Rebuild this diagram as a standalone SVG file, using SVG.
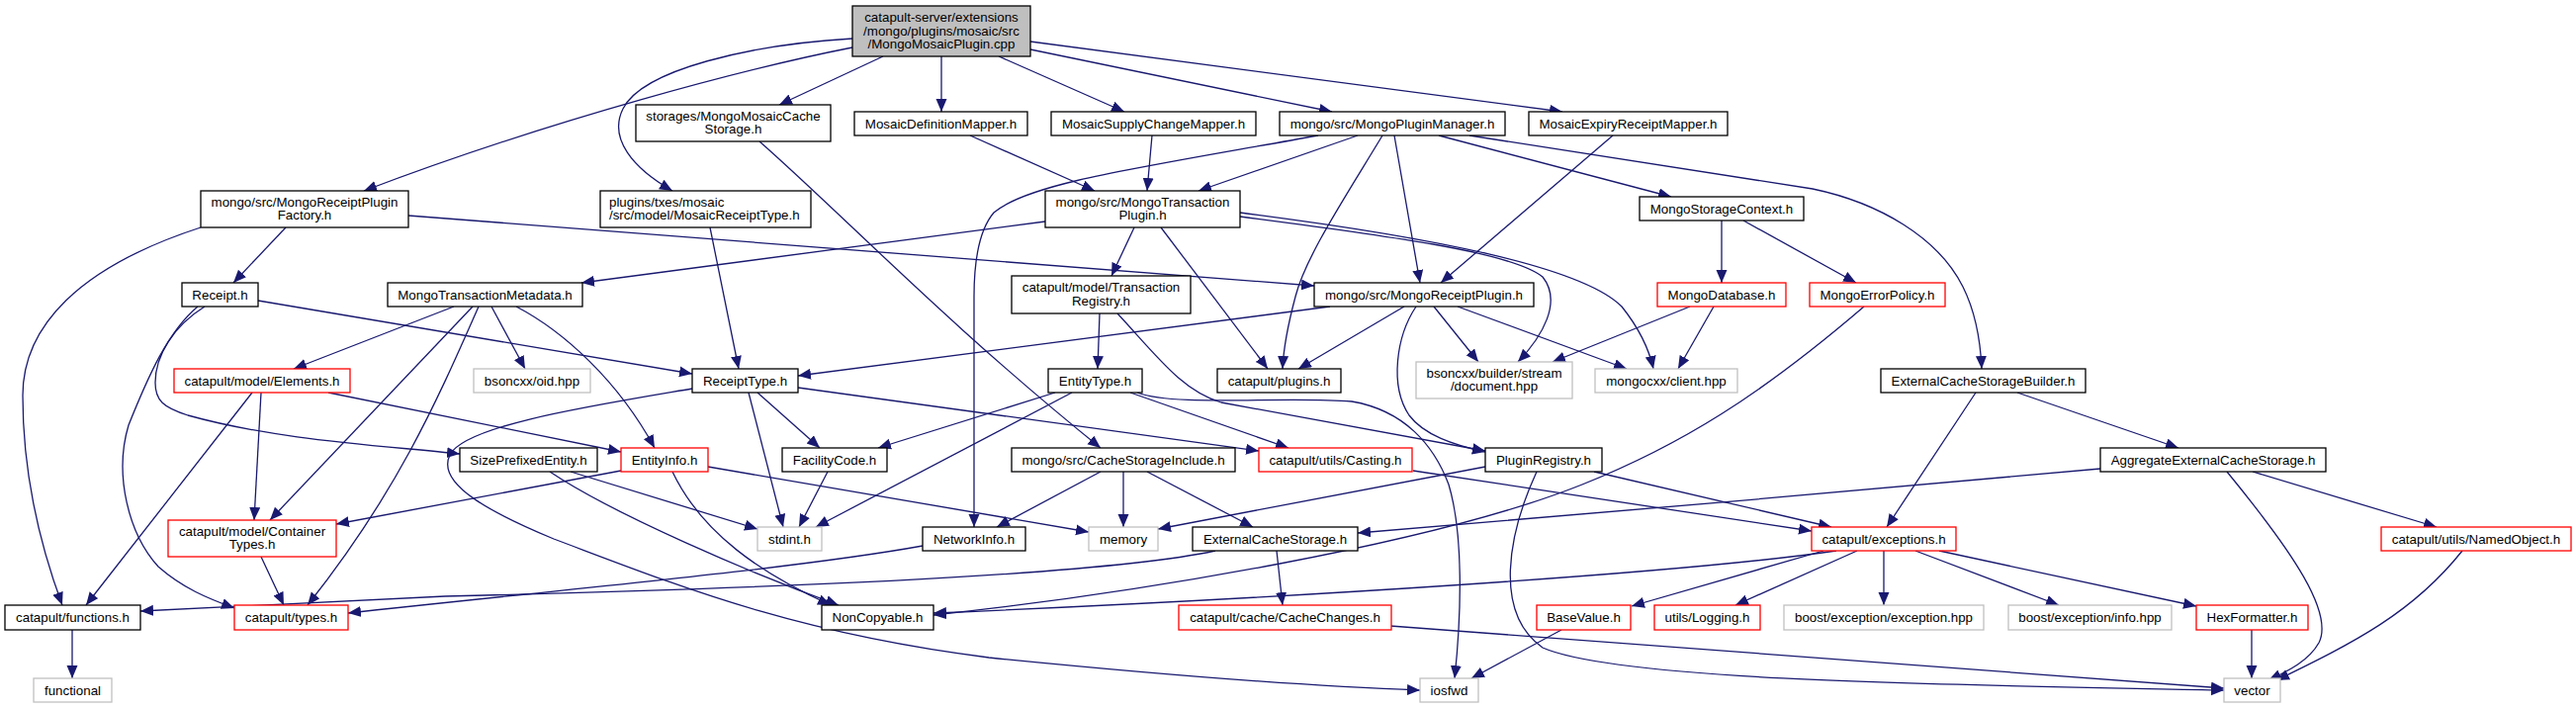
<svg xmlns="http://www.w3.org/2000/svg" width="2605" height="716" viewBox="0 0 2605 716">
<defs>
<style>
.n rect{fill:#fff;stroke:#000;stroke-width:1.3}
.r rect{stroke:#f00}
.g rect{stroke:#c0c0c0}
.root rect{fill:#bfbfbf}
text{font-family:"Liberation Sans",Arial,Helvetica,sans-serif;font-size:13.33px;fill:#000;text-anchor:middle}
text.l{text-anchor:start}
#edges path{fill:none;stroke:#191970;stroke-width:1.3;marker-end:url(#a)}
</style>
<marker id="a" markerUnits="userSpaceOnUse" markerWidth="14" markerHeight="12" refX="13" refY="5.5" orient="auto"><path d="M0,0 L13,5.5 L0,11 z" fill="#191970"/></marker>
</defs>
<rect width="2605" height="716" fill="#fff"/>
<g id="edges">
<path d="M862,48 C760,68 560,120 368,193"/>
<path d="M862,39 C760,45 650,70 630,110 C615,140 640,170 680,193"/>
<path d="M893,57 L788,106"/>
<path d="M952,57 L952,113"/>
<path d="M1010,57 L1137,113"/>
<path d="M1042,50 L1347,113"/>
<path d="M1042,42 L1580,113"/>
<path d="M768,143 C850,215 960,330 1113,453"/>
<path d="M981,137 L1107,193"/>
<path d="M1165,137 L1160,193"/>
<path d="M1373,137 L1212,193"/>
<path d="M1333,137 C1150,170 1040,185 1005,215 C988,235 985,270 985,300 L985,533"/>
<path d="M1398,137 C1360,200 1320,260 1310,300 C1302,330 1298,350 1297,373"/>
<path d="M1410,137 L1436,286"/>
<path d="M1455,137 L1690,199"/>
<path d="M1486,137 L1833,191 C1900,205 1960,240 1985,290 C2000,320 2003,350 2004,373"/>
<path d="M1631,137 L1457,286"/>
<path d="M413,218 L1329,289"/>
<path d="M289,230 L236,286"/>
<path d="M203,230 C80,270 23,330 23,400 C23,480 40,550 63,612"/>
<path d="M718,230 L747,373"/>
<path d="M1057,224 L588,286"/>
<path d="M1147,230 L1124,279"/>
<path d="M1174,230 L1282,373"/>
<path d="M1254,219 C1400,238 1530,255 1560,280 C1580,305 1560,340 1535,366"/>
<path d="M1254,215 C1450,240 1600,270 1640,310 C1660,335 1668,355 1672,373"/>
<path d="M1741,223 L1741,286"/>
<path d="M1763,223 L1877,286"/>
<path d="M261,304 L700,378"/>
<path d="M207,310 C175,330 157,360 157,387 C157,405 165,412 190,420 C280,445 380,450 465,459"/>
<path d="M200,310 C170,335 150,380 130,430 C115,480 130,540 160,573 C185,595 210,605 237,615"/>
<path d="M459,310 L297,373"/>
<path d="M478,310 L273,526"/>
<path d="M484,310 C440,410 400,500 311,612"/>
<path d="M497,310 L531,373"/>
<path d="M522,310 C570,335 625,385 662,453"/>
<path d="M1112,317 L1110,373"/>
<path d="M1130,317 C1170,360 1195,395 1235,407 L1502,456"/>
<path d="M1345,310 L807,380"/>
<path d="M1420,310 L1313,373"/>
<path d="M1450,310 L1495,366"/>
<path d="M1474,310 L1645,373"/>
<path d="M1432,310 C1412,340 1405,390 1425,420 C1440,440 1470,450 1502,457"/>
<path d="M1709,310 L1570,366"/>
<path d="M1733,310 L1697,373"/>
<path d="M1885,310 C1780,400 1700,450 1600,490 C1450,550 1150,600 944,622"/>
<path d="M255,397 L87,612"/>
<path d="M264,397 L257,526"/>
<path d="M332,397 L628,457"/>
<path d="M766,397 L829,453"/>
<path d="M757,397 L792,533"/>
<path d="M807,392 L1273,456"/>
<path d="M700,393 C600,410 470,430 455,460 C440,490 500,520 560,545 C680,590 800,640 1000,665 C1200,685 1350,695 1436,698"/>
<path d="M1067,397 L888,453"/>
<path d="M1084,397 L825,533"/>
<path d="M1143,397 L1303,453"/>
<path d="M1150,397 C1190,412 1300,400 1367,406 C1420,415 1450,450 1465,490 C1480,540 1478,620 1471,686"/>
<path d="M1998,397 L1908,533"/>
<path d="M2040,397 L2203,453"/>
<path d="M577,477 L766,535"/>
<path d="M556,477 C620,520 760,580 848,612"/>
<path d="M628,476 L340,530"/>
<path d="M680,477 C710,540 770,580 840,612"/>
<path d="M716,472 L1101,538"/>
<path d="M837,477 L808,533"/>
<path d="M1113,477 L1008,533"/>
<path d="M1136,477 L1136,533"/>
<path d="M1160,477 L1267,533"/>
<path d="M1429,476 L1832,537"/>
<path d="M1502,472 L1171,535"/>
<path d="M1612,477 L1852,533"/>
<path d="M1554,477 C1525,540 1510,620 1560,655 C1640,690 2000,693 2249,698"/>
<path d="M2124,474 C1900,495 1600,520 1373,539"/>
<path d="M2252,477 C2320,560 2360,620 2345,650 C2335,668 2315,678 2294,688"/>
<path d="M2278,477 L2464,533"/>
<path d="M264,563 L287,612"/>
<path d="M933,552 C800,576 550,598 352,620"/>
<path d="M1229,557 C1100,585 700,597 450,603 L142,618"/>
<path d="M1291,557 L1297,612"/>
<path d="M1857,557 C1700,580 1300,605 944,620"/>
<path d="M1844,557 L1650,613"/>
<path d="M1878,557 L1755,612"/>
<path d="M1905,557 L1905,612"/>
<path d="M1937,557 L2082,612"/>
<path d="M1961,557 L2221,613"/>
<path d="M2490,557 C2440,620 2380,650 2302,688"/>
<path d="M73,637 L73,686"/>
<path d="M1406,633 C1700,655 2000,678 2249,696"/>
<path d="M1579,637 L1488,686"/>
<path d="M2277,637 L2277,686"/>
</g>
<g id="root" class="n root"><rect x="862" y="6" width="180" height="51"/><text x="952" y="22">catapult-server/extensions</text><text x="952" y="35.5">/mongo/plugins/mosaic/src</text><text x="952" y="49">/MongoMosaicPlugin.cpp</text></g>
<g id="storages" class="n"><rect x="643" y="106" width="197" height="37"/><text x="741.5" y="121.5">storages/MongoMosaicCache</text><text x="741.5" y="135">Storage.h</text></g>
<g id="defmapper" class="n"><rect x="864" y="113" width="175" height="24"/><text x="951.5" y="130">MosaicDefinitionMapper.h</text></g>
<g id="supplymapper" class="n"><rect x="1063" y="113" width="207" height="24"/><text x="1166.5" y="130">MosaicSupplyChangeMapper.h</text></g>
<g id="pluginmanager" class="n"><rect x="1294" y="113" width="228" height="24"/><text x="1408" y="130">mongo/src/MongoPluginManager.h</text></g>
<g id="expirymapper" class="n"><rect x="1546" y="113" width="201" height="24"/><text x="1646.5" y="130">MosaicExpiryReceiptMapper.h</text></g>
<g id="factory" class="n"><rect x="203" y="193" width="210" height="37"/><text x="308" y="208.5">mongo/src/MongoReceiptPlugin</text><text x="308" y="222">Factory.h</text></g>
<g id="txesreceipttype" class="n"><rect x="607" y="193" width="213" height="37"/><text class="l" x="616" y="208.5">plugins/txes/mosaic</text><text class="l" x="616" y="222">/src/model/MosaicReceiptType.h</text></g>
<g id="txplugin" class="n"><rect x="1057" y="193" width="197" height="37"/><text x="1155.5" y="208.5">mongo/src/MongoTransaction</text><text x="1155.5" y="222">Plugin.h</text></g>
<g id="storagecontext" class="n"><rect x="1658" y="199" width="166" height="24"/><text x="1741" y="216">MongoStorageContext.h</text></g>
<g id="receipt" class="n"><rect x="184" y="286" width="77" height="24"/><text x="222.5" y="303">Receipt.h</text></g>
<g id="metadata" class="n"><rect x="392" y="286" width="197" height="24"/><text x="490.5" y="303">MongoTransactionMetadata.h</text></g>
<g id="txregistry" class="n"><rect x="1023" y="279" width="181" height="38"/><text x="1113.5" y="295">catapult/model/Transaction</text><text x="1113.5" y="308.5">Registry.h</text></g>
<g id="receiptplugin" class="n"><rect x="1329" y="286" width="222" height="24"/><text x="1440" y="303">mongo/src/MongoReceiptPlugin.h</text></g>
<g id="mongodatabase" class="n r"><rect x="1676" y="286" width="130" height="24"/><text x="1741" y="303">MongoDatabase.h</text></g>
<g id="errorpolicy" class="n r"><rect x="1830" y="286" width="137" height="24"/><text x="1898.5" y="303">MongoErrorPolicy.h</text></g>
<g id="elements" class="n r"><rect x="176" y="373" width="178" height="24"/><text x="265" y="390">catapult/model/Elements.h</text></g>
<g id="oid" class="n g"><rect x="479" y="373" width="118" height="24"/><text x="538" y="390">bsoncxx/oid.hpp</text></g>
<g id="receipttype" class="n"><rect x="700" y="373" width="107" height="24"/><text x="753.5" y="390">ReceiptType.h</text></g>
<g id="entitytype" class="n"><rect x="1060" y="373" width="95" height="24"/><text x="1107.5" y="390">EntityType.h</text></g>
<g id="plugins" class="n"><rect x="1231" y="373" width="125" height="24"/><text x="1293.5" y="390">catapult/plugins.h</text></g>
<g id="document" class="n g"><rect x="1432" y="366" width="158" height="37"/><text x="1511" y="381.5">bsoncxx/builder/stream</text><text x="1511" y="395">/document.hpp</text></g>
<g id="client" class="n g"><rect x="1613" y="373" width="144" height="24"/><text x="1685" y="390">mongocxx/client.hpp</text></g>
<g id="extbuilder" class="n"><rect x="1902" y="373" width="207" height="24"/><text x="2005.5" y="390">ExternalCacheStorageBuilder.h</text></g>
<g id="sizeprefixed" class="n"><rect x="465" y="453" width="139" height="24"/><text x="534.5" y="470">SizePrefixedEntity.h</text></g>
<g id="entityinfo" class="n r"><rect x="628" y="453" width="88" height="24"/><text x="672" y="470">EntityInfo.h</text></g>
<g id="facilitycode" class="n"><rect x="791" y="453" width="106" height="24"/><text x="844" y="470">FacilityCode.h</text></g>
<g id="cachestorageinclude" class="n"><rect x="1023" y="453" width="226" height="24"/><text x="1136" y="470">mongo/src/CacheStorageInclude.h</text></g>
<g id="casting" class="n r"><rect x="1273" y="453" width="155" height="24"/><text x="1350.5" y="470">catapult/utils/Casting.h</text></g>
<g id="pluginregistry" class="n"><rect x="1502" y="453" width="118" height="24"/><text x="1561" y="470">PluginRegistry.h</text></g>
<g id="aggregate" class="n"><rect x="2124" y="453" width="228" height="24"/><text x="2238" y="470">AggregateExternalCacheStorage.h</text></g>
<g id="containertypes" class="n r"><rect x="170" y="526" width="170" height="37"/><text x="255" y="541.5">catapult/model/Container</text><text x="255" y="555">Types.h</text></g>
<g id="stdint" class="n g"><rect x="766" y="533" width="65" height="24"/><text x="798.5" y="550">stdint.h</text></g>
<g id="networkinfo" class="n"><rect x="933" y="533" width="104" height="24"/><text x="985" y="550">NetworkInfo.h</text></g>
<g id="memory" class="n g"><rect x="1101" y="533" width="70" height="24"/><text x="1136" y="550">memory</text></g>
<g id="extcachestorage" class="n"><rect x="1206" y="533" width="167" height="24"/><text x="1289.5" y="550">ExternalCacheStorage.h</text></g>
<g id="exceptions" class="n r"><rect x="1832" y="533" width="146" height="24"/><text x="1905" y="550">catapult/exceptions.h</text></g>
<g id="namedobject" class="n r"><rect x="2408" y="533" width="192" height="24"/><text x="2504" y="550">catapult/utils/NamedObject.h</text></g>
<g id="functions" class="n"><rect x="5" y="612" width="137" height="25"/><text x="73.5" y="629">catapult/functions.h</text></g>
<g id="types" class="n r"><rect x="237" y="612" width="115" height="25"/><text x="294.5" y="629">catapult/types.h</text></g>
<g id="noncopyable" class="n"><rect x="831" y="612" width="113" height="25"/><text x="887.5" y="629">NonCopyable.h</text></g>
<g id="cachechanges" class="n r"><rect x="1192" y="612" width="215" height="25"/><text x="1299.5" y="629">catapult/cache/CacheChanges.h</text></g>
<g id="basevalue" class="n r"><rect x="1554" y="612" width="95" height="25"/><text x="1601.5" y="629">BaseValue.h</text></g>
<g id="logging" class="n r"><rect x="1673" y="612" width="107" height="25"/><text x="1726.5" y="629">utils/Logging.h</text></g>
<g id="boostexception" class="n g"><rect x="1804" y="612" width="202" height="25"/><text x="1905" y="629">boost/exception/exception.hpp</text></g>
<g id="boostinfo" class="n g"><rect x="2031" y="612" width="165" height="25"/><text x="2113.5" y="629">boost/exception/info.hpp</text></g>
<g id="hexformatter" class="n r"><rect x="2221" y="612" width="113" height="25"/><text x="2277.5" y="629">HexFormatter.h</text></g>
<g id="functional" class="n g"><rect x="34" y="686" width="79" height="24"/><text x="73.5" y="703">functional</text></g>
<g id="iosfwd" class="n g"><rect x="1436" y="686" width="59" height="24"/><text x="1465.5" y="703">iosfwd</text></g>
<g id="vector" class="n g"><rect x="2249" y="686" width="57" height="24"/><text x="2277.5" y="703">vector</text></g>
</svg>
